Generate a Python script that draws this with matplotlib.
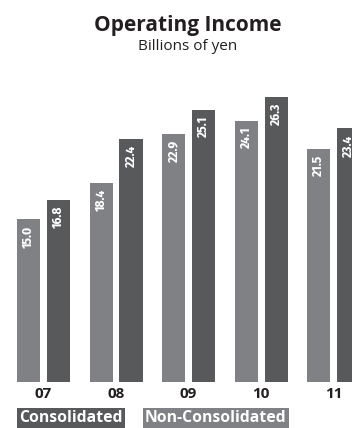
import matplotlib
matplotlib.use("Agg")
import matplotlib.pyplot as plt
from matplotlib import font_manager
import numpy as np

years = ["07", "08", "09", "10", "11"]
non_consolidated = [15.0, 18.4, 22.9, 24.1, 21.5]
consolidated = [16.8, 22.4, 25.1, 26.3, 23.4]

LIGHT = "#808184"
DARK = "#58595b"
TEXT = "#231f20"

names = {f.name for f in font_manager.fontManager.ttflist}
narrow = ["Fira Sans Condensed", "DejaVu Sans"] if "Fira Sans Condensed" in names else ["DejaVu Sans"]
base = ["Open Sans", "DejaVu Sans"]

W, H = 352, 428
fig = plt.figure(figsize=(W / 100, H / 100), dpi=100)

# axes placed in pixel terms: baseline at y=382 px from top, 10.84 px per unit
base_px = 382
top_px = 60
px_per_unit = 10.84
ax = fig.add_axes([0, (H - base_px) / H, 1, (base_px - top_px) / H])
group_px = 72.5
center0_px = 43.5
ax.set_xlim(-center0_px / group_px, (W - center0_px) / group_px)
ax.set_ylim(0, (base_px - top_px) / px_per_unit)
ax.axis("off")

x = np.arange(len(years))
bw = 23 / group_px
off = 15 / group_px
ax.bar(x - off, non_consolidated, bw, color=LIGHT, linewidth=0)
ax.bar(x + off, consolidated, bw, color=DARK, linewidth=0)

pad = 6 / px_per_unit
for xs, vals in ((x - off, non_consolidated), (x + off, consolidated)):
    for xi, v in zip(xs, vals):
        ax.text(xi, v - pad, f"{v:.1f}", rotation=90, ha="center", va="top",
                color="white", fontsize=9.5, fontweight="bold", family=narrow)

for xi, lab in zip(x, years):
    ax.text(xi, -5 / px_per_unit, lab, ha="center", va="top", color=TEXT,
            fontsize=11, fontweight="bold", family=base)

fig.text(188 / W, 1 - 25 / H, "Operating Income", ha="center", va="center",
         fontsize=15, fontweight="bold", color=TEXT, family=base)
fig.text(188 / W, 1 - 47 / H, "Billions of yen", ha="center", va="center",
         fontsize=11, color=TEXT, family=base)

# legend boxes
fig.text(19 / W, 1 - 418 / H, "Consolidated", ha="left", va="center",
         fontsize=11.3, fontweight="bold", color="white", family=base,
         bbox=dict(boxstyle="square,pad=0.15", fc=DARK, ec="none"))
fig.text(145 / W, 1 - 418 / H, "Non-Consolidated", ha="left", va="center",
         fontsize=11.3, fontweight="bold", color="white", family=base,
         bbox=dict(boxstyle="square,pad=0.15", fc=LIGHT, ec="none"))

fig.savefig("out.png", dpi=100)
